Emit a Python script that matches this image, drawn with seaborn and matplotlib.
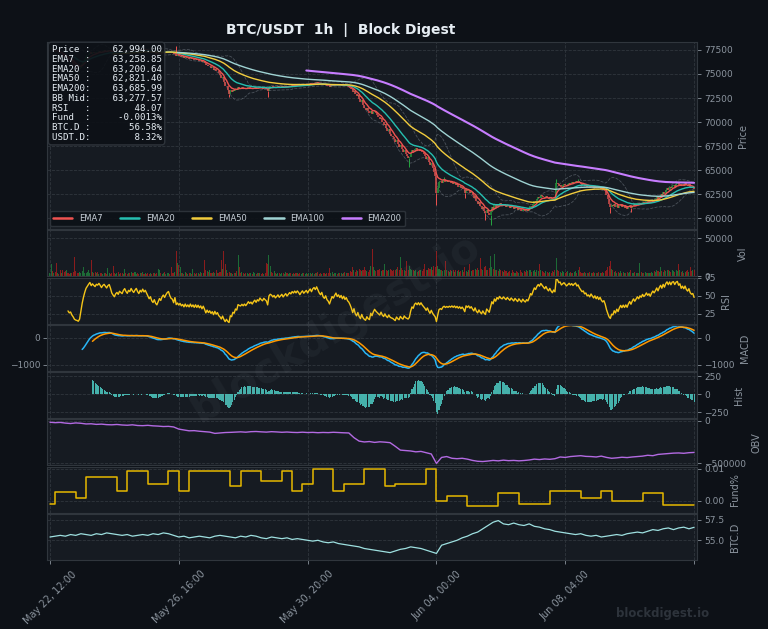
import numpy as np
import pandas as pd
import matplotlib
matplotlib.use("Agg")
import matplotlib.pyplot as plt
from matplotlib.ticker import FixedLocator, FormatStrFormatter, FuncFormatter
import seaborn as sns

# ---------------- data (hourly, starting May 22 12:00) ----------------
close_prices = [
    77600, 77650, 77500, 77520, 77380, 77300, 77330, 77180, 77050, 77080, 76900, 76800, 76650, 76700, 76500, 76380, 76400, 76200, 76050, 75800, 75700, 75650, 75550, 75600, 75800,
    76050, 76300, 76550, 76800, 76950, 77100, 77250, 77120, 77260, 77200, 77150, 77310, 77280, 77400, 77330, 77250, 77380, 77450, 77390, 77330, 77460, 77520, 77400, 77230, 77150,
    77080, 77200, 77260, 77190, 77320, 77280, 77240, 77370, 77450, 77360, 77300, 77420, 77380, 77510, 77440, 77390, 77480, 77550, 77460, 77400, 77520, 77470, 77580, 77500, 77560,
    77480, 77400, 77300, 77360, 77220, 77150, 77230, 77090, 77020, 77110, 77200, 77130, 77240, 77300, 77220, 77310, 77380, 77420, 77300, 77210, 77180, 77050, 77200, 76900, 76950,
    76850, 76900, 76780, 76820, 76700, 76780, 76650, 76700, 76600, 76680, 76550, 76600, 76480, 76550, 76420, 76480, 76350, 76400, 76250, 76320, 76150, 75900, 75980, 75800, 75850,
    75650, 75700, 75450, 75550, 75300, 75350, 75050, 74900, 74600, 74700, 74200, 73700, 73800, 73300, 72950, 73300, 73100, 73350, 73200, 73450, 73300, 73650, 73550, 73500, 73600,
    73450, 73550, 73400, 73500, 73620, 73480, 73550, 73400, 73520, 73600, 73450, 73580, 73500, 73650, 73550, 73480, 73600, 73520, 73450, 73200, 73650, 73750, 73700, 73600, 73680,
    73550, 73620, 73700, 73580, 73650, 73720, 73600, 73680, 73750, 73650, 73720, 73800, 73750, 73850, 73800, 73880, 73820, 73900, 73850, 73780, 73860, 73920, 73850, 73900, 73950,
    73880, 73960, 74020, 73950, 74050, 74100, 74050, 74150, 74080, 74000, 73950, 74020, 73900, 73850, 73920, 73800, 73750, 73650, 73750, 73850, 73800, 73880, 73950, 73850, 73900,
    73820, 73880, 73780, 73850, 73750, 73800, 73700, 73650, 73550, 73400, 73150, 73250, 72900, 72700, 72800, 72400, 72100, 72250, 71800, 71500, 71300, 71450, 71100, 70900, 71200,
    70800, 71000, 71150, 70900, 70700, 70500, 70300, 70450, 70000, 69700, 69850, 69400, 69100, 69250, 68800, 68600, 68500, 68200, 67900, 68100, 67700, 67400, 67600, 67200, 66900,
    67100, 66700, 66500, 66300, 66400, 66800, 67100, 66900, 67200, 67300, 67100, 67250, 67000, 67150, 66900, 66700, 66500, 66200, 66350, 65900, 65500, 65700, 65200, 64800, 64400,
    62600, 63200, 63800, 63900, 63700, 63950, 64050, 63800, 63900, 63750, 63850, 63700, 63800, 63600, 63700, 63450, 63550, 63300, 63400, 63150, 63250, 63000, 62600, 63000, 62800,
    62900, 62600, 62700, 62400, 62100, 62300, 61800, 61500, 61700, 61300, 61000, 61200, 60800, 60500, 60900, 60600, 60300, 60700, 61200, 60900, 61400, 61100, 61500, 61300, 61600,
    61400, 61300, 61500, 61350, 61200, 61400, 61250, 61100, 61300, 61150, 61000, 61200, 61050, 60900, 61100, 60950, 60800, 61000, 60850, 60750, 60900, 60800, 61000, 61300, 61200,
    61500, 61800, 61700, 62000, 62200, 62100, 62400, 62300, 62200, 62100, 62300, 62150, 62050, 62250, 62100, 62000, 62200, 62100, 63700, 63600, 63400, 63500, 63300, 63450, 63600,
    63500, 63400, 63550, 63700, 63600, 63750, 63650, 63800, 63900, 63750, 63850, 63700, 63600, 63500, 63550, 63400, 63450, 63300, 63350, 63250, 63400, 63300, 63200, 63300, 63150,
    63250, 63100, 63200, 63050, 62950, 63000, 62800, 62400, 62000, 61500, 61200, 61400, 61300, 61500, 61200, 61400, 61100, 61300, 61450, 61200, 61350, 61100, 61250, 61000, 61200,
    61350, 61100, 61300, 61450, 61250, 61400, 61550, 61400, 61600, 61500, 61700, 61550, 61650, 61800, 61650, 61750, 61600, 61800, 61950, 61850, 62000, 62200, 62050, 62300, 62500,
    62350, 62700, 62550, 62900, 63100, 62950, 63250, 63100, 63400, 63450, 63300, 63550, 63650, 63450, 63600, 63350, 63550, 63400, 63650, 63450, 63350, 63550, 63300, 63200, 63250,
    62994,
]

# notable wicks (hour index, price)
hi_wick_hours = [98, 306, 393, 410]
hi_wick_vals = [77950, 64300, 64100, 64050]
lo_wick_hours = [139, 169, 279, 300, 322, 338, 342, 435, 451]
lo_wick_vals = [72650, 72600, 65350, 61350, 62100, 59800, 59300, 60600, 60700]

volume_k = [
    5, 16, 7, 4, 6, 18, 5, 3, 8, 4, 8, 6, 7, 8, 4, 3, 5, 4, 6, 26, 7, 5, 4, 6, 5,
    7, 12, 5, 4, 6, 8, 5, 22, 6, 5, 6, 4, 6, 3, 4, 5, 3, 4, 5, 3, 11, 4, 3, 5, 14,
    5, 3, 4, 6, 3, 4, 5, 3, 10, 4, 3, 5, 5, 6, 4, 5, 6, 3, 4, 3, 5, 4, 6, 3, 4,
    3, 5, 3, 4, 3, 5, 4, 3, 4, 10, 8, 4, 3, 5, 6, 3, 4, 5, 3, 13, 4, 5, 6, 34, 18,
    15, 12, 5, 4, 3, 6, 4, 3, 5, 4, 3, 10, 4, 3, 5, 4, 3, 6, 5, 4, 22, 8, 7, 6, 8,
    5, 4, 6, 4, 8, 5, 4, 6, 21, 10, 33, 16, 8, 5, 6, 4, 5, 3, 4, 5, 7, 28, 12, 5, 6,
    4, 3, 5, 4, 3, 4, 5, 3, 6, 4, 3, 5, 4, 5, 3, 4, 3, 5, 18, 16, 28, 14, 6, 5, 7,
    4, 3, 5, 4, 3, 4, 5, 3, 6, 4, 3, 4, 5, 3, 4, 3, 5, 4, 3, 4, 3, 5, 4, 3, 4,
    3, 4, 5, 3, 4, 3, 5, 4, 6, 3, 4, 3, 5, 4, 3, 4, 5, 11, 4, 6, 3, 5, 4, 3, 4,
    4, 5, 3, 4, 6, 5, 4, 5, 7, 6, 13, 8, 6, 9, 7, 10, 8, 7, 9, 12, 8, 7, 6, 9, 14,
    36, 12, 8, 7, 9, 8, 10, 7, 8, 9, 16, 8, 7, 9, 10, 8, 7, 9, 8, 10, 12, 9, 26, 11, 8,
    9, 7, 20, 9, 14, 10, 8, 9, 7, 8, 6, 7, 8, 9, 7, 10, 16, 9, 8, 11, 10, 12, 9, 14, 12,
    33, 14, 10, 9, 8, 7, 9, 20, 8, 7, 6, 8, 7, 9, 6, 8, 7, 9, 6, 7, 8, 6, 12, 7, 6,
    8, 16, 7, 9, 8, 10, 9, 11, 8, 24, 10, 9, 12, 14, 9, 8, 11, 27, 12, 10, 29, 9, 8, 7, 10,
    8, 7, 6, 8, 7, 5, 6, 7, 5, 8, 6, 5, 7, 6, 5, 8, 6, 5, 7, 6, 8, 7, 9, 8, 6,
    7, 8, 6, 9, 7, 16, 8, 7, 6, 5, 7, 6, 5, 6, 5, 7, 6, 8, 24, 9, 7, 6, 5, 7, 6,
    5, 6, 7, 5, 6, 4, 5, 6, 7, 5, 8, 13, 6, 5, 4, 6, 5, 4, 5, 6, 4, 5, 6, 4, 5,
    4, 6, 5, 4, 6, 5, 7, 9, 12, 14, 20, 10, 8, 6, 7, 5, 6, 5, 7, 5, 6, 5, 4, 6, 5,
    6, 9, 5, 4, 6, 5, 4, 5, 18, 6, 5, 4, 6, 5, 4, 5, 4, 6, 5, 7, 6, 8, 7, 6, 13,
    7, 6, 8, 7, 9, 8, 7, 6, 8, 7, 6, 9, 7, 16, 8, 6, 7, 5, 6, 7, 8, 6, 13, 7, 8,
    9,
]

# OBV read every 4 hours (thousands)
obv_4h_k = [
    -20, -25, -22, -30, -35, -28, -32, -40, -38, -45, -42, -48, -50, -46, -52, -55, -50, -58, -60, -56, -62, -65, -70, -68, -75,
    -100, -110, -120, -118, -125, -130, -135, -150, -145, -140, -138, -135, -132, -136, -130, -128, -132, -135, -130, -133, -137, -134, -138, -140, -136,
    -140, -138, -142, -139, -141, -137, -140, -143, -145, -200, -240, -250, -245, -255, -248, -252, -258, -300, -345, -350, -355, -365, -360, -375, -390,
    -500, -430, -420, -440, -445, -440, -450, -465, -475, -478, -472, -465, -470, -462, -468, -465, -470, -466, -460, -450, -455, -448, -452, -445, -425,
    -430, -420, -415, -410, -418, -420, -425, -415, -430, -440, -435, -428, -432, -425, -420, -415, -405, -410, -395, -390, -385, -380, -378, -382, -375, -372,
]

# BTC dominance read every 4 hours (%)
btc_dom_4h = [
    55.4, 55.5, 55.6, 55.5, 55.7, 55.6, 55.8, 55.7, 55.6, 55.8, 55.7, 55.9, 55.8, 55.7, 55.6, 55.7, 55.5, 55.6, 55.7, 55.6, 55.8, 55.7, 55.9, 55.8, 55.6,
    55.4, 55.5, 55.3, 55.4, 55.5, 55.4, 55.3, 55.5, 55.6, 55.5, 55.4, 55.3, 55.5, 55.4, 55.6, 55.5, 55.3, 55.2, 55.4, 55.3, 55.2, 55.3, 55.1, 55.2, 55.1,
    55.0, 54.9, 55.0, 54.8, 54.7, 54.8, 54.6, 54.5, 54.4, 54.3, 54.2, 54.0, 53.9, 53.8, 53.7, 53.6, 53.5, 53.7, 53.9, 54.0, 54.2, 54.1, 54.0, 53.8, 53.6,
    53.4, 54.4, 54.6, 54.8, 55.0, 55.3, 55.5, 55.8, 56.0, 56.4, 56.8, 57.2, 57.4, 57.0, 56.9, 57.1, 56.9, 56.8, 57.0, 56.7, 56.6, 56.4, 56.3, 56.1, 56.0,
    55.9, 55.8, 55.7, 55.8, 55.6, 55.5, 55.6, 55.4, 55.5, 55.6, 55.7, 55.6, 55.8, 55.9, 56.0, 55.9, 56.1, 56.3, 56.2, 56.4, 56.5, 56.3, 56.5, 56.6, 56.4, 56.58,
]

# funding rate (%): first value for hours 0-4, then one value per 8h settlement from hour 4
funding_pct = [
    -0.001, 0.0028, 0.0028, 0.001, 0.0075, 0.0075, 0.0075, 0.003, 0.0094, 0.0094,
    0.0053, 0.0053, 0.0094, 0.003, 0.0094, 0.0094, 0.0094, 0.0094, 0.0047, 0.0094,
    0.0094, 0.0063, 0.0063, 0.0094, 0.003, 0.0053, 0.01, 0.01, 0.003, 0.0053,
    0.0053, 0.01, 0.01, 0.0047, 0.0053, 0.0053, 0.0053, 0.01, 0.0, 0.0016,
    0.0016, -0.0016, -0.0016, -0.0016, 0.0025, 0.0025, -0.001, -0.001, -0.001, 0.003,
    0.003, 0.003, 0.001, 0.001, 0.003, 0.0, 0.0, 0.0, 0.0025, 0.0025,
    -0.0013, -0.0013, -0.0013,
]

info_labels = ["Price", "EMA7", "EMA20", "EMA50", "EMA200", "BB Mid", "RSI", "Fund", "BTC.D", "USDT.D"]
info_values = ["62,994.00", "63,258.85", "63,200.64", "62,821.40", "63,685.99", "63,277.57",
               "48.07", "-0.0013%", "56.58%", "8.32%"]

ema_spans = [7, 20, 50, 100, 200]
ema_names = ["EMA7", "EMA20", "EMA50", "EMA100", "EMA200"]
xtick_hours = [0, 100, 200, 300, 400, 500]
xtick_labels = ["May 22, 12:00", "May 26, 16:00", "May 30, 20:00", "Jun 04, 00:00", "Jun 08, 04:00", ""]

# ---------------- style ----------------
BG = "#0d1117"
AX_BG = "#161b22"
GRID = "#30363d"
TXT = "#8b949e"
UP = "#26a641"
DOWN = "#ef5350"
ema_colors = ["#ef5350", "#26bfb0", "#f2cc3d", "#9fd3d3", "#c77dff"]

sns.set_theme(style="darkgrid", rc={
    "figure.facecolor": BG, "axes.facecolor": AX_BG, "axes.edgecolor": GRID,
    "grid.color": GRID, "grid.linestyle": "--", "grid.linewidth": 0.6,
    "text.color": TXT, "axes.labelcolor": TXT, "xtick.color": TXT, "ytick.color": TXT,
})
plt.rcParams["font.family"] = ["DejaVu Sans"]

# ---------------- derived series ----------------
n = min(len(close_prices), len(volume_k))
c = pd.Series(close_prices[:n], dtype=float)
o = c.shift(1).fillna(c.iloc[0])
hours = np.arange(n)
vol = pd.Series(volume_k[:n], dtype=float) * 1000

emas = []
for span in ema_spans:
    e = c.ewm(span=span, adjust=False).mean()
    e.iloc[:span - 1] = np.nan
    emas.append(e)

bb_mid = c.rolling(20).mean()
bb_std = c.rolling(20).std()
bb_up = bb_mid + 2 * bb_std
bb_lo = bb_mid - 2 * bb_std

delta = c.diff()
gain = delta.clip(lower=0)
loss = -delta.clip(upper=0)
ag = gain.ewm(alpha=1 / 14, adjust=False, min_periods=14).mean()
al = loss.ewm(alpha=1 / 14, adjust=False, min_periods=14).mean()
rsi = 100 - 100 / (1 + ag / al)

ema12 = c.ewm(span=12, adjust=False).mean()
ema26 = c.ewm(span=26, adjust=False).mean()
macd = ema12 - ema26
macd.iloc[:25] = np.nan
signal = macd.ewm(span=9, adjust=False, min_periods=9).mean()
hist = macd - signal

obv_hours = np.arange(len(obv_4h_k)) * 4
obv_vals = np.array(obv_4h_k, dtype=float) * 1000
dom_hours = np.arange(len(btc_dom_4h)) * 4
fund_hours = [0] + [4 + 8 * k for k in range(len(funding_pct) - 1)]

# ---------------- figure ----------------
fig, axes = plt.subplots(8, 1, figsize=(7.68, 6.29), dpi=100, sharex=True,
                         gridspec_kw=dict(height_ratios=[4.07, 1, 1, 1, 1, 1, 1, 1], hspace=0.02))
fig.subplots_adjust(left=0.0612, right=0.9076, top=0.9332, bottom=0.1097)
ax_p, ax_v, ax_r, ax_m, ax_h, ax_o, ax_f, ax_d = axes

for ax in axes:
    ax.set_facecolor(AX_BG)
    ax.grid(True, linestyle="--", color=GRID, linewidth=0.6)
    for s in ax.spines.values():
        s.set_color(GRID)
        s.set_linewidth(0.8)
    ax.yaxis.tick_right()
    ax.yaxis.set_label_position("right")
    ax.tick_params(axis="y", which="both", right=True, left=False, length=3, width=0.6,
                   labelsize=6.5, colors=TXT, pad=2)
    ax.tick_params(axis="x", length=3, width=0.6, colors=TXT)
    ax.set_xlim(-2.3, 502.3)

# price panel
ax_p.plot(hours, bb_up, color="#8b949e", lw=0.6, ls="--", alpha=0.45)
ax_p.plot(hours, bb_lo, color="#8b949e", lw=0.6, ls="--", alpha=0.45)
up = (c >= o).values
ax_p.vlines(hours[up], o[up], c[up], color=UP, lw=1.1, alpha=0.9)
ax_p.vlines(hours[~up], o[~up], c[~up], color=DOWN, lw=1.1, alpha=0.9)
for hh, hv in zip(hi_wick_hours, hi_wick_vals):
    col = UP if up[hh] else DOWN
    ax_p.vlines(hh, max(o[hh], c[hh]), hv, color=col, lw=0.7)
for hh, lv in zip(lo_wick_hours, lo_wick_vals):
    col = UP if up[hh] else DOWN
    ax_p.vlines(hh, lv, min(o[hh], c[hh]), color=col, lw=0.7)
for e, name, col in zip(emas, ema_names, ema_colors):
    sns.lineplot(x=hours, y=e.values, ax=ax_p, color=col, lw=1.5 if name == "EMA200" else 1.0,
                 label=name, sort=False)
ax_p.set_ylim(58870, 78320)
ax_p.yaxis.set_major_locator(FixedLocator(np.arange(60000, 77501, 2500)))
ax_p.yaxis.set_major_formatter(FuncFormatter(lambda v, p: f"{int(v)}"))
ax_p.set_ylabel("Price", fontsize=7)
leg = ax_p.legend(loc="lower left", ncol=5, fontsize=6, frameon=True, facecolor=BG,
                  edgecolor=GRID, labelcolor="#c9d1d9", framealpha=0.9, borderaxespad=0.35,
                  handlelength=2.3, handletextpad=0.8, columnspacing=2.1)
for lh in leg.get_lines():
    lh.set_linewidth(1.8)

info_text = "\n".join(f"{lab:<6}:{val:>13}" for lab, val in zip(info_labels, info_values))
ax_p.text(0.007, 0.982, info_text, transform=ax_p.transAxes, va="top", ha="left",
          family="DejaVu Sans Mono", fontsize=6.6, linespacing=1.1, color="#e6edf3", zorder=10,
          bbox=dict(boxstyle="round,pad=0.35", fc=BG, ec=GRID, alpha=0.92))

# volume
vcols = ["#1f7a3a" if u else "#a11d1d" for u in up]
ax_v.bar(hours, vol, width=0.8, color=vcols, alpha=0.85, linewidth=0)
ax_v.set_ylim(0, 60500)
ax_v.yaxis.set_major_locator(FixedLocator([0, 50000]))
ax_v.yaxis.set_major_formatter(FuncFormatter(lambda v, p: f"{int(v)}"))
ax_v.set_ylabel("Vol", fontsize=7)

# RSI
sns.lineplot(x=hours, y=rsi.values, ax=ax_r, color="#f5c518", lw=1.0, sort=False)
ax_r.set_ylim(11.1, 75.2)
ax_r.yaxis.set_major_locator(FixedLocator([25, 50, 75]))
ax_r.set_ylabel("RSI", fontsize=7)

# MACD
sns.lineplot(x=hours, y=macd.values, ax=ax_m, color="#29b6f6", lw=1.1, sort=False)
sns.lineplot(x=hours, y=signal.values, ax=ax_m, color="#ff9800", lw=1.1, sort=False)
ax_m.set_ylim(-1222, 481)
ax_m.yaxis.set_major_locator(FixedLocator([-1000, 0]))
ax_m.tick_params(axis="y", left=True, labelleft=True)
ax_m.set_ylabel("MACD", fontsize=7)

# histogram
ax_h.bar(hours, hist.values, width=0.85, color="#4ecdc4", alpha=0.85, linewidth=0)
ax_h.set_ylim(-333, 306)
ax_h.yaxis.set_major_locator(FixedLocator([-250, 0, 250]))
ax_h.set_ylabel("Hist", fontsize=7)

# OBV
sns.lineplot(x=obv_hours, y=obv_vals, ax=ax_o, color="#b36ae2", lw=1.0, sort=False)
ax_o.set_ylim(-524000, 12000)
ax_o.yaxis.set_major_locator(FixedLocator([-500000, 0]))
ax_o.yaxis.set_major_formatter(FuncFormatter(lambda v, p: f"{int(v)}".replace("-", "\u2212")))
ax_o.set_ylabel("OBV", fontsize=7)

# funding
fx = fund_hours + [n - 1]
fy = list(funding_pct) + [funding_pct[-1]]
sns.lineplot(x=fx, y=fy, ax=ax_f, color="#e6b800", lw=1.1, drawstyle="steps-post", sort=False)
ax_f.set_ylim(-0.00375, 0.0106)
ax_f.yaxis.set_major_locator(FixedLocator([0.0, 0.01]))
ax_f.yaxis.set_major_formatter(FormatStrFormatter("%.2f"))
ax_f.set_ylabel("Fund%", fontsize=7)

# BTC dominance
sns.lineplot(x=dom_hours, y=btc_dom_4h, ax=ax_d, color="#9ee0e0", lw=0.9, sort=False)
ax_d.set_ylim(52.6, 58.2)
ax_d.yaxis.set_major_locator(FixedLocator([55.0, 57.5]))
ax_d.yaxis.set_major_formatter(FormatStrFormatter("%.1f"))
ax_d.set_ylabel("BTC.D", fontsize=7)

for ax in axes:
    ax.set_xlabel("")
    if ax is not ax_p and ax.get_legend() is not None:
        ax.get_legend().remove()

ax_d.set_xticks(xtick_hours)
ax_d.set_xticklabels(xtick_labels, rotation=45, fontsize=7)
ax_d.tick_params(axis="x", bottom=True, length=3)
ax_d.set_xlim(-2.3, 502.3)

fig.text(0.443, 0.953, "BTC/USDT  1h  |  Block Digest", ha="center", va="center",
         fontsize=10, fontweight="bold", color="#e6edf3")
fig.text(0.436, 0.478, "blockdigest.io", rotation=31, fontsize=30, fontweight="bold",
         color="#8b949e", alpha=0.07, ha="center", va="center")
fig.text(0.863, 0.025, "blockdigest.io", ha="center", va="center", fontsize=8.5,
         fontweight="bold", color="#2d333b")

fig.savefig("out.png", dpi=100, facecolor=BG)
